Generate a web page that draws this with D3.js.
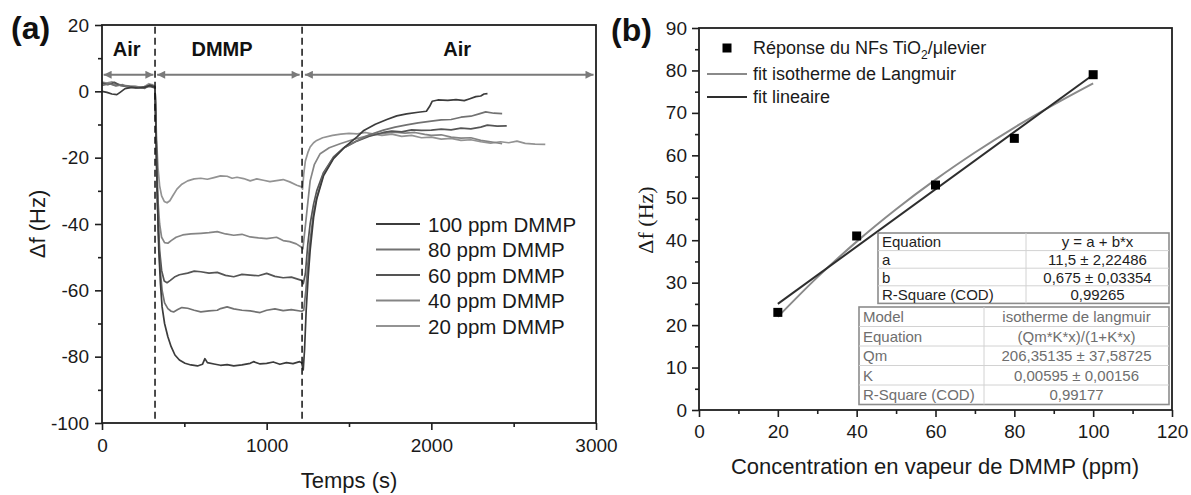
<!DOCTYPE html>
<html lang="fr">
<head>
<meta charset="UTF-8">
<title>Réponse DMMP</title>
<script src="https://d3js.org/d3.v7.min.js"></script>
<style>
  body { margin: 0; background: #fff; }
  svg { font-family: "Liberation Sans", Arial, sans-serif; }
</style>
</head>
<body>
<svg id="chart" width="1191" height="495"></svg>
<script>
// ---- panel (a): frequency shift vs time, [time (s), df (Hz)] ----
var s100 = [[0,0],[30,-0.3],[60,-0.8],[90,-1.0],[110,-0.3],[140,0.8],[180,1.2],[220,1.0],[260,1.2],[290,1.8],[310,1.5],[322,1.2],
  [325,-5],[335,-30],[345,-48],[355,-58],[365,-65],[380,-70],[400,-74],[420,-77],[443,-79.5],[470,-81],[504,-82],[540,-82.5],[580,-82.8],
  [610,-82.3],[625,-80.6],[640,-81.8],[680,-82.2],[720,-82.6],[760,-82.4],[800,-82.8],[850,-82.5],[900,-82],[920,-81.5],[960,-82.2],
  [1000,-82],[1040,-81.6],[1080,-82.3],[1120,-81.8],[1160,-82.1],[1200,-81.5],[1212,-81.8],
  [1222,-84],[1230,-78],[1240,-66],[1252,-56],[1264,-48],[1285,-38],[1304,-32.5],[1345,-25.5],[1406,-20.3],[1470,-17],[1547,-13.8],
  [1590,-11.8],[1660,-9.9],[1730,-8.5],[1790,-7.4],[1850,-6.8],[1920,-6.3],[1970,-6.0],[1990,-4.5],[2005,-3],[2040,-2.6],
  [2100,-2.7],[2150,-2.5],[2200,-2.8],[2230,-2.3],[2270,-1.6],[2300,-1.4],[2320,-0.8],[2341,-0.7]];
var s80 = [[0,1.8],[45,2.3],[85,1.6],[125,2.0],[165,1.2],[215,1.3],[260,0.9],[295,2.0],[322,1.3],
  [325,-5],[333,-25],[342,-42],[352,-53],[365,-60],[380,-63.8],[400,-65.5],[420,-66.3],[435,-66.5],[460,-65.8],[485,-65.2],[520,-65.4],
  [560,-66],[600,-66.5],[650,-66.2],[700,-66],[720,-65.5],[760,-65],[800,-65.6],[850,-66],[900,-66.2],[960,-66.7],[1000,-66],
  [1050,-65.6],[1100,-66.1],[1150,-65.8],[1212,-66.3],
  [1225,-66],[1238,-60],[1250,-52],[1264,-45],[1285,-36.5],[1304,-32],[1345,-25],[1406,-20],[1470,-17],[1547,-15],[1620,-13.2],
  [1709,-11.7],[1780,-10.8],[1850,-10.1],[1920,-9.5],[2000,-9],[2060,-8.6],[2120,-8.5],[2180,-7.8],[2240,-7.5],[2290,-6.8],
  [2330,-6.2],[2380,-6.6],[2430,-6.7]];
var s60 = [[0,2.6],[35,2.0],[75,2.7],[115,1.7],[160,1.5],[205,1.0],[250,1.3],[290,1.5],[322,1.0],
  [325,-5],[332,-22],[340,-38],[350,-48],[362,-54],[378,-57.2],[395,-57.7],[415,-57],[440,-56],[470,-55.3],[520,-54.8],[560,-54.2],
  [600,-54.4],[650,-54.8],[700,-54.6],[750,-55.5],[800,-55.9],[850,-55.2],[900,-55.4],[950,-55.6],[1000,-54.9],[1050,-55.8],
  [1100,-56.2],[1150,-56],[1212,-57],
  [1222,-58],[1235,-55],[1250,-46],[1264,-40],[1285,-34],[1304,-30],[1345,-24.5],[1406,-19.8],[1470,-17],[1547,-15],[1620,-13.6],
  [1709,-12.4],[1760,-12],[1820,-12.2],[1880,-11.6],[1940,-11.8],[2000,-11.7],[2060,-11.4],[2120,-11.6],[2180,-11.1],
  [2240,-11.3],[2300,-10.8],[2340,-10.2],[2400,-10.5],[2458,-10.4]];
var s40 = [[0,2.2],[40,2.6],[70,2.0],[110,1.9],[150,1.4],[200,1.5],[240,1.1],[280,1.8],[305,2.0],[322,1.2],
  [325,-5],[332,-20],[340,-33],[350,-40],[362,-44],[380,-45.6],[400,-45.8],[420,-45],[450,-44],[490,-43.3],[540,-43],[600,-42.8],
  [650,-42.6],[700,-42.3],[750,-43],[800,-43.4],[850,-43.1],[900,-43.9],[950,-44.2],[1000,-44.4],[1060,-44],[1100,-45],[1140,-45.3],
  [1180,-46],[1212,-47],
  [1220,-47.5],[1232,-42],[1243,-36.8],[1264,-27],[1290,-22],[1325,-18.8],[1380,-17],[1446,-15.8],[1520,-14.6],[1600,-13.6],
  [1660,-13],[1720,-12.6],[1780,-12.3],[1840,-12.6],[1900,-12.4],[1960,-13],[2000,-13.3],[2060,-13.1],[2120,-13.8],[2180,-14.1],
  [2240,-14],[2300,-14.8],[2360,-15.2],[2430,-15.8]];
var s20 = [[0,2.8],[30,2.5],[60,2.9],[90,2.2],[130,1.8],[170,1.6],[210,1.4],[250,1.2],[285,2.3],[310,1.8],[322,1.5],
  [325,-5],[332,-15],[340,-23],[350,-28.5],[362,-31.5],[378,-33.2],[395,-33.6],[412,-33],[430,-31.5],[455,-29.5],[485,-28],[520,-27],
  [560,-26.4],[600,-26.2],[640,-26.5],[680,-26],[720,-25.5],[760,-25.6],[790,-26.2],[820,-25.9],[860,-26.3],[900,-27],[940,-26.4],
  [980,-26.8],[1020,-27.2],[1060,-26.9],[1100,-26.6],[1140,-27.3],[1183,-28.3],[1212,-28.8],
  [1218,-29.5],[1225,-25],[1235,-21],[1250,-18.5],[1264,-16.8],[1285,-15.5],[1304,-14.8],[1340,-14],[1400,-13.3],[1450,-12.9],
  [1500,-12.7],[1550,-12.8],[1600,-12.4],[1650,-12.9],[1700,-13.3],[1760,-12.9],[1820,-13.6],[1880,-13.3],[1940,-14],[2000,-13.8],
  [2060,-14.4],[2120,-14.2],[2180,-14.8],[2240,-14.6],[2300,-15.2],[2360,-15.6],[2420,-15.2],[2470,-15.5],[2520,-15.0],[2570,-15.7],
  [2630,-15.9],[2692,-16]];

var seriesNames = ["100 ppm DMMP", "80 ppm DMMP", "60 ppm DMMP", "40 ppm DMMP", "20 ppm DMMP"];
var seriesData = [s100, s80, s60, s40, s20];
var seriesColors = ["#3c3c3c", "#727272", "#555555", "#858585", "#939393"];

var switchTimes = [322, 1215];
var phases = [
  {label: "Air", from: 10, to: 312, at: 150},
  {label: "DMMP", from: 335, to: 1200, at: 729},
  {label: "Air", from: 1232, to: 2985, at: 2157}
];

// ---- panel (b): response vs concentration ----
var conc = [20, 40, 60, 80, 100];
var resp = [23, 41, 53, 64, 79];
var langX = [20, 30, 40, 50, 60, 70, 80, 90, 100];
var langY = [21.94, 31.25, 39.67, 47.31, 54.29, 60.67, 66.55, 71.96, 76.98];
var linX = [20, 100];
var linY = [25, 79];

var linTable = [["Equation", "y = a + b*x"], ["a", "11,5 \u00b1 2,22486"], ["b", "0,675 \u00b1 0,03354"], ["R-Square (COD)", "0,99265"]];
var langTable = [["Model", "isotherme de langmuir"], ["Equation", "(Qm*K*x)/(1+K*x)"], ["Qm", "206,35135 \u00b1 37,58725"],
  ["K", "0,00595 \u00b1 0,00156"], ["R-Square (COD)", "0,99177"]];

var svg = d3.select("#chart");
var axisColor = "#1e1e1e";
var plain = d => String(d);

svg.append("defs").append("marker")
  .attr("id", "head")
  .attr("viewBox", "0 0 10 10")
  .attr("refX", 10).attr("refY", 5)
  .attr("markerWidth", 5).attr("markerHeight", 4)
  .attr("orient", "auto-start-reverse")
  .attr("markerUnits", "strokeWidth")
  .append("path").attr("d", "M0,0L10,5L0,10z").attr("fill", "#7a7a7a");

function styleAxis(g, size) {
  g.select(".domain").remove();
  g.selectAll("line").attr("stroke", axisColor).attr("stroke-width", 1.6);
  g.selectAll("text").attr("fill", "#1a1a1a").style("font-size", size + "px");
}

function frame(x0, y0, x1, y1) {
  svg.append("rect")
    .attr("x", x0).attr("y", y0).attr("width", x1 - x0).attr("height", y1 - y0)
    .attr("fill", "none").attr("stroke", axisColor).attr("stroke-width", 1.8);
}

// ================= (a) =================
var xa = d3.scaleLinear().domain([0, 3000]).range([102, 596]);
var ya = d3.scaleLinear().domain([-100, 20]).range([423, 25]);

svg.append("g").attr("transform", "translate(0,423)")
  .call(d3.axisBottom(xa).tickValues([500, 1500, 2500]).tickSize(4).tickFormat(""))
  .call(g => styleAxis(g, 19));
svg.append("g").attr("transform", "translate(0,423)")
  .call(d3.axisBottom(xa).tickValues([0, 1000, 2000, 3000]).tickSize(7).tickPadding(9).tickFormat(plain))
  .call(g => styleAxis(g, 19));
svg.append("g").attr("transform", "translate(102,0)")
  .call(d3.axisLeft(ya).tickValues([-90, -70, -50, -30, -10, 10]).tickSize(4).tickFormat(""))
  .call(g => styleAxis(g, 19));
svg.append("g").attr("transform", "translate(102,0)")
  .call(d3.axisLeft(ya).tickValues([-100, -80, -60, -40, -20, 0, 20]).tickSize(7).tickPadding(6).tickFormat(plain))
  .call(g => styleAxis(g, 19));

var lineA = d3.line().x(d => xa(d[0])).y(d => ya(d[1]));

// draw lowest concentration first so the dark 100 ppm trace sits on top
seriesData.slice().reverse().forEach(function (s, i) {
  var k = seriesData.length - 1 - i;
  svg.append("path").datum(s)
    .attr("d", lineA)
    .attr("fill", "none")
    .attr("stroke", seriesColors[k])
    .attr("stroke-width", 1.7)
    .attr("stroke-linejoin", "round");
});

svg.selectAll(".switch").data(switchTimes).enter().append("line")
  .attr("x1", d => xa(d)).attr("x2", d => xa(d))
  .attr("y1", ya(19.5)).attr("y2", ya(-99))
  .attr("stroke", "#111").attr("stroke-width", 1.5)
  .attr("stroke-dasharray", "7,4");

svg.selectAll(".phase").data(phases).enter().append("line")
  .attr("x1", d => xa(d.from)).attr("x2", d => xa(d.to))
  .attr("y1", ya(5)).attr("y2", ya(5))
  .attr("stroke", "#7a7a7a").attr("stroke-width", 2)
  .attr("marker-start", "url(#head)").attr("marker-end", "url(#head)");

svg.selectAll(".phaseLabel").data(phases).enter().append("text")
  .attr("x", d => xa(d.at)).attr("y", ya(10.8))
  .attr("text-anchor", "middle")
  .style("font-size", "20px").style("font-weight", "bold")
  .attr("fill", "#111")
  .text(d => d.label);

frame(102, 25, 596, 423);

var legA = svg.selectAll(".legA").data(seriesNames).enter().append("g")
  .attr("transform", (d, i) => "translate(376," + (224 + i * 25.5) + ")");
legA.append("line").attr("x1", 0).attr("x2", 44).attr("y1", 0).attr("y2", 0)
  .attr("stroke", (d, i) => seriesColors[i]).attr("stroke-width", 1.8);
legA.append("text").attr("x", 52).attr("y", 7.5)
  .style("font-size", "20.5px").attr("fill", "#1a1a1a")
  .text(d => d);

svg.append("text").attr("transform", "translate(45,224) rotate(-90)")
  .attr("text-anchor", "middle").style("font-size", "22px").attr("fill", "#1a1a1a")
  .text("\u0394f (Hz)");
svg.append("text").attr("x", 349).attr("y", 488)
  .attr("text-anchor", "middle").style("font-size", "22px").attr("fill", "#1a1a1a")
  .text("Temps (s)");
svg.append("text").attr("x", 11).attr("y", 39)
  .style("font-size", "32px").style("font-weight", "bold").attr("fill", "#111")
  .text("(a)");

// ================= (b) =================
var xb = d3.scaleLinear().domain([0, 120]).range([699, 1172]);
var yb = d3.scaleLinear().domain([0, 90]).range([410, 28]);

svg.append("g").attr("transform", "translate(0,410)")
  .call(d3.axisBottom(xb).tickValues([10, 30, 50, 70, 90, 110]).tickSize(4).tickFormat(""))
  .call(g => styleAxis(g, 19));
svg.append("g").attr("transform", "translate(0,410)")
  .call(d3.axisBottom(xb).tickValues([0, 20, 40, 60, 80, 100, 120]).tickSize(7).tickPadding(8).tickFormat(plain))
  .call(g => styleAxis(g, 19));
svg.append("g").attr("transform", "translate(699,0)")
  .call(d3.axisLeft(yb).tickValues([5, 15, 25, 35, 45, 55, 65, 75, 85]).tickSize(4).tickFormat(""))
  .call(g => styleAxis(g, 19));
svg.append("g").attr("transform", "translate(699,0)")
  .call(d3.axisLeft(yb).tickValues(d3.range(0, 91, 10)).tickSize(7).tickPadding(5).tickFormat(plain))
  .call(g => styleAxis(g, 19));

var lineB = d3.line().x(d => xb(d[0])).y(d => yb(d[1])).curve(d3.curveMonotoneX);

svg.append("path").datum(langX.map((x, i) => [x, langY[i]]))
  .attr("d", lineB).attr("fill", "none").attr("stroke", "#8a8a8a").attr("stroke-width", 2);
svg.append("path").datum(linX.map((x, i) => [x, linY[i]]))
  .attr("d", lineB).attr("fill", "none").attr("stroke", "#2e2e2e").attr("stroke-width", 2);

svg.selectAll(".pt").data(conc).enter().append("rect")
  .attr("x", (d) => xb(d) - 4.5).attr("y", (d, i) => yb(resp[i]) - 4.5)
  .attr("width", 9).attr("height", 9).attr("fill", "#000");

function drawTable(rows, x0, xDiv, x1, y0, rowH, textColor) {
  var g = svg.append("g");
  g.append("rect").attr("x", x0).attr("y", y0).attr("width", x1 - x0).attr("height", rowH * rows.length)
    .attr("fill", "#fff").attr("stroke", "#8c8c8c").attr("stroke-width", 1.6);
  rows.forEach(function (r, i) {
    if (i > 0) {
      g.append("line").attr("x1", x0).attr("x2", x1).attr("y1", y0 + i * rowH).attr("y2", y0 + i * rowH)
        .attr("stroke", "#d2d2d2").attr("stroke-width", 1);
    }
    g.append("text").attr("x", x0 + 4).attr("y", y0 + i * rowH + rowH / 2 + 5.5)
      .style("font-size", "15px").attr("fill", textColor).text(r[0]);
    g.append("text").attr("x", (xDiv + x1) / 2).attr("y", y0 + i * rowH + rowH / 2 + 5.5)
      .attr("text-anchor", "middle").style("font-size", "15px").attr("fill", textColor).text(r[1]);
  });
  g.append("line").attr("x1", xDiv).attr("x2", xDiv).attr("y1", y0).attr("y2", y0 + rowH * rows.length)
    .attr("stroke", "#d2d2d2").attr("stroke-width", 1);
}
drawTable(linTable, 878, 1026, 1169, 233, 17.6, "#1e1e1e");
drawTable(langTable, 859, 984, 1169, 307, 19.5, "#6e6e6e");

frame(699, 28, 1172, 410);

// legend (b)
svg.append("rect").attr("x", 722.5).attr("y", 43.5).attr("width", 9).attr("height", 9).attr("fill", "#000");
var t1 = svg.append("text").attr("x", 753).attr("y", 54).style("font-size", "18px").attr("fill", "#1a1a1a");
t1.append("tspan").text("Réponse du NFs TiO");
t1.append("tspan").attr("dy", 5).style("font-size", "12px").text("2");
t1.append("tspan").attr("dy", -5).text("/\u03bclevier");
svg.append("line").attr("x1", 707).attr("x2", 747).attr("y1", 74).attr("y2", 74)
  .attr("stroke", "#8a8a8a").attr("stroke-width", 2);
svg.append("text").attr("x", 753).attr("y", 80).style("font-size", "18px").attr("fill", "#1a1a1a")
  .text("fit isotherme de Langmuir");
svg.append("line").attr("x1", 707).attr("x2", 747).attr("y1", 97).attr("y2", 97)
  .attr("stroke", "#2e2e2e").attr("stroke-width", 2);
svg.append("text").attr("x", 753).attr("y", 103).style("font-size", "18px").attr("fill", "#1a1a1a")
  .text("fit lineaire");

svg.append("text").attr("transform", "translate(653,220) rotate(-90)")
  .attr("text-anchor", "middle").style("font-size", "22px").attr("fill", "#1a1a1a")
  .style("font-family", "'Liberation Serif', 'Times New Roman', serif")
  .text("\u0394f (Hz)");
svg.append("text").attr("x", 935).attr("y", 474)
  .attr("text-anchor", "middle").style("font-size", "22px").attr("fill", "#1a1a1a")
  .text("Concentration en vapeur de DMMP (ppm)");
svg.append("text").attr("x", 611).attr("y", 41)
  .style("font-size", "32px").style("font-weight", "bold").attr("fill", "#111")
  .text("(b)");
</script>
</body>
</html>
